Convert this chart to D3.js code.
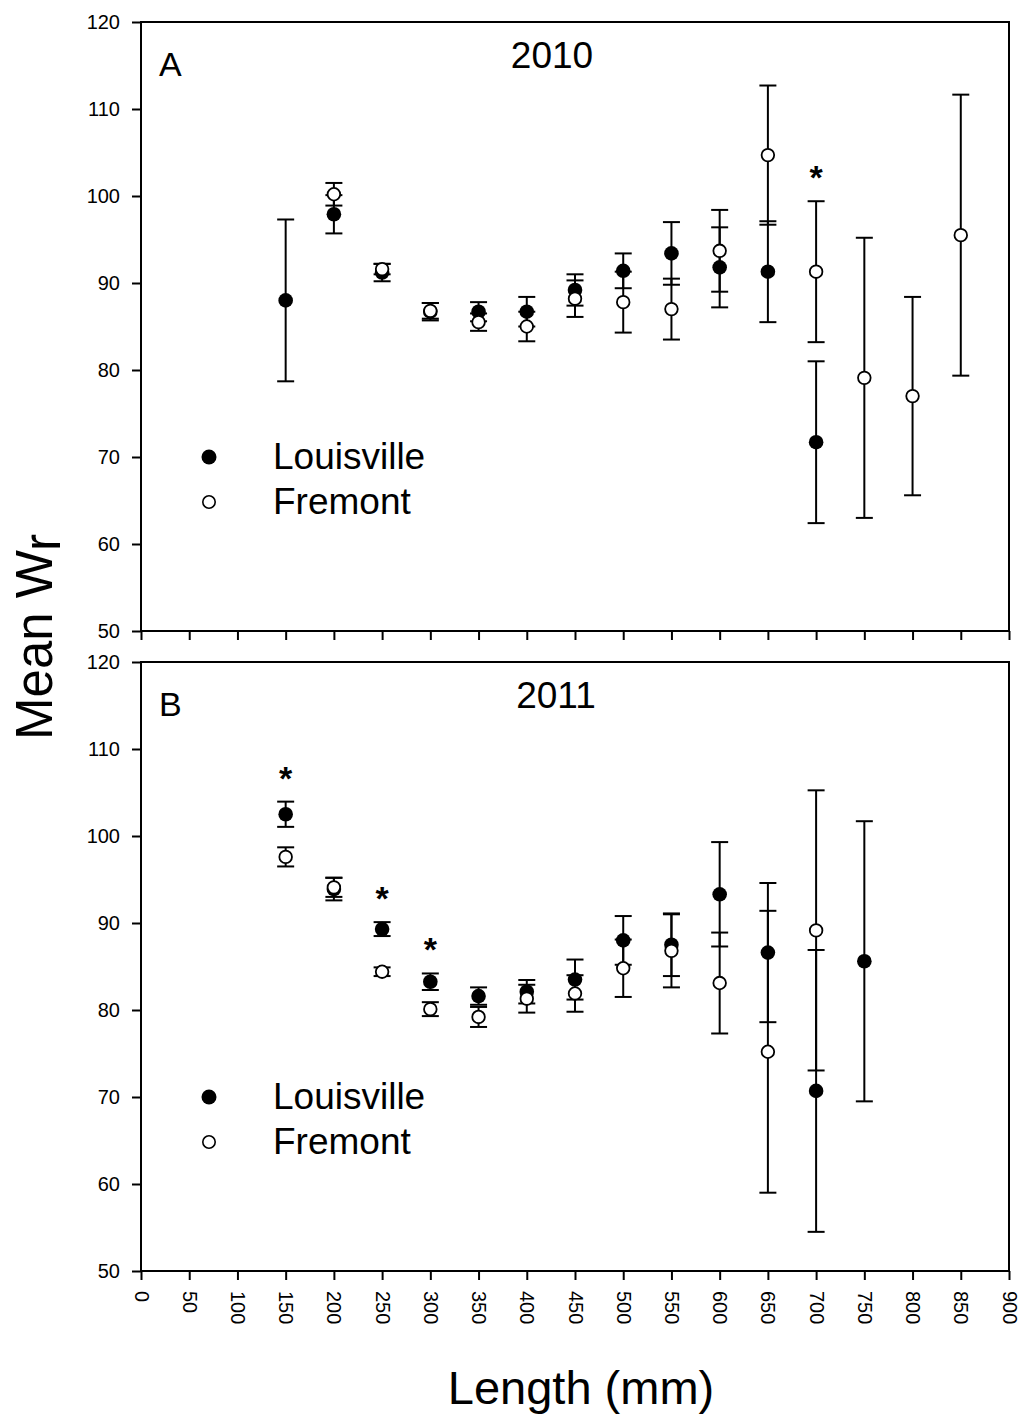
<!DOCTYPE html>
<html>
<head>
<meta charset="utf-8">
<script src="https://cdn.jsdelivr.net/npm/d3@7"></script>
<style>
  body { margin: 0; background: #fff; }
  svg { display: block; font-family: "Liberation Sans", Arial, sans-serif; }
</style>
</head>
<body>
<div id="chart"></div>
<script>
// length classes (mm)
const lengths = [150, 200, 250, 300, 350, 400, 450, 500, 550, 600, 650, 700, 750, 800, 850];

// 2010 mean Wr and SE
const louis2010 = [88.0, 97.9, 91.2, 86.7, 86.7, 86.7, 89.2, 91.4, 93.4, 91.8, 91.3, 71.7, null, null, null];
const louis2010se = [9.3, 2.2, 1.0, 1.0, 1.1, 1.7, 1.8, 2.0, 3.6, 4.6, 5.8, 9.3, null, null, null];
const frem2010 = [null, 100.2, 91.6, 86.8, 85.5, 85.0, 88.2, 87.8, 87.0, 93.7, 104.7, 91.3, 79.1, 77.0, 95.5];
const frem2010se = [null, 1.3, 0.6, 0.9, 1.0, 1.7, 2.1, 3.5, 3.5, 4.7, 8.0, 8.1, 16.1, 11.4, 16.15];

// 2011 mean Wr and SE
const louis2011 = [102.5, 93.9, 89.3, 83.25, 81.6, 82.1, 83.5, 88.0, 87.5, 93.3, 86.6, 70.7, 85.6, null, null];
const louis2011se = [1.45, 1.3, 0.8, 0.95, 1.0, 1.35, 2.3, 2.8, 3.6, 6.0, 8.0, 16.2, 16.1, null, null];
const frem2011 = [97.6, 94.1, 84.4, 80.1, 79.2, 81.3, 81.9, 84.8, 86.8, 83.1, 75.2, 89.15, null, null, null];
const frem2011se = [1.1, 1.1, 0.5, 0.8, 1.15, 1.6, 2.1, 3.3, 4.2, 5.8, 16.2, 16.1, null, null, null];

// significant differences (*)
const sig2010 = [700];
const sig2011 = [150, 250, 300];

const xTicks = d3.range(0, 901, 50);
const yTicks = [50, 60, 70, 80, 90, 100, 110, 120];
const seriesNames = ["Louisville", "Fremont"];
const panelLetters = ["A", "B"];
const panelYears = ["2010", "2011"];

const width = 1024, height = 1416;
const svg = d3.select("#chart").append("svg")
  .attr("width", width)
  .attr("height", height);

const x = d3.scaleLinear().domain([0, 900]).range([141, 1009]);

const panels = [
  { top: 22, bottom: 631, louis: louis2010, louisSe: louis2010se, frem: frem2010, fremSe: frem2010se, sig: sig2010, titleX: 552, xLabels: false },
  { top: 662, bottom: 1271, louis: louis2011, louisSe: louis2011se, frem: frem2011, fremSe: frem2011se, sig: sig2011, titleX: 556, xLabels: true }
];

function toPoints(means, ses) {
  return lengths.map((l, i) => ({ len: l, mean: means[i], se: ses[i] }))
    .filter(d => d.mean != null);
}

panels.forEach((p, pi) => {
  const y = d3.scaleLinear().domain([50, 120]).range([p.bottom, p.top]);
  const g = svg.append("g");

  // frame
  g.append("rect")
    .attr("x", x(0)).attr("y", y(120))
    .attr("width", x(900) - x(0)).attr("height", y(50) - y(120))
    .attr("fill", "none").attr("stroke", "#000").attr("stroke-width", 2);

  // y axis
  const yAxis = g.append("g")
    .attr("transform", `translate(${x(0)},0)`)
    .call(d3.axisLeft(y).tickValues(yTicks).tickSize(9).tickSizeOuter(0).tickPadding(12));
  yAxis.select(".domain").remove();
  yAxis.selectAll("line").attr("stroke-width", 2);
  yAxis.selectAll("text").attr("font-size", 20).attr("fill", "#000")
    .style("font-family", "'Liberation Sans', Arial, sans-serif");

  // x axis
  const xAxis = g.append("g")
    .attr("transform", `translate(0,${y(50)})`)
    .call(d3.axisBottom(x).tickValues(xTicks).tickSize(9).tickSizeOuter(0)
      .tickFormat(p.xLabels ? d3.format("d") : ""));
  xAxis.select(".domain").remove();
  xAxis.selectAll("line").attr("stroke-width", 2);
  xAxis.selectAll("text")
    .attr("font-size", 20).attr("fill", "#000")
    .style("font-family", "'Liberation Sans', Arial, sans-serif")
    .attr("transform", "rotate(90)")
    .attr("x", 20).attr("y", 0).attr("dy", "0.35em")
    .attr("text-anchor", "start");

  const series = [
    { pts: toPoints(p.louis, p.louisSe), fill: "#000" },
    { pts: toPoints(p.frem, p.fremSe), fill: "#fff" }
  ];

  series.forEach(s => {
    const bars = g.append("g").selectAll("g")
      .data(s.pts).enter().append("g")
      .attr("stroke", "#000").attr("stroke-width", 2);
    bars.append("line")
      .attr("x1", d => x(d.len)).attr("x2", d => x(d.len))
      .attr("y1", d => y(d.mean + d.se)).attr("y2", d => y(d.mean - d.se));
    bars.append("line")
      .attr("x1", d => x(d.len) - 8.5).attr("x2", d => x(d.len) + 8.5)
      .attr("y1", d => y(d.mean + d.se)).attr("y2", d => y(d.mean + d.se));
    bars.append("line")
      .attr("x1", d => x(d.len) - 8.5).attr("x2", d => x(d.len) + 8.5)
      .attr("y1", d => y(d.mean - d.se)).attr("y2", d => y(d.mean - d.se));

    g.append("g").selectAll("circle")
      .data(s.pts).enter().append("circle")
      .attr("cx", d => x(d.len)).attr("cy", d => y(d.mean))
      .attr("r", s.fill === "#000" ? 7.3 : 6.3)
      .attr("fill", s.fill)
      .attr("stroke", "#000")
      .attr("stroke-width", s.fill === "#000" ? 0 : 1.8);
  });

  // asterisks above the highest error bar
  const allPts = series[0].pts.concat(series[1].pts);
  g.append("g").selectAll("text")
    .data(p.sig).enter().append("text")
    .attr("x", d => x(d))
    .attr("y", d => {
      const hi = d3.max(allPts.filter(q => q.len === d), q => q.mean + q.se);
      return y(hi) - 32 + 20;
    })
    .attr("text-anchor", "middle")
    .attr("font-size", 34)
    .attr("font-weight", "bold")
    .text("*");

  // panel letter and year
  g.append("text")
    .attr("x", 159).attr("y", p.top + 54)
    .attr("font-size", 34)
    .text(panelLetters[pi]);
  g.append("text")
    .attr("x", p.titleX).attr("y", p.top + 46)
    .attr("text-anchor", "middle")
    .attr("font-size", 37)
    .text(panelYears[pi]);

  // legend
  const leg = g.append("g").attr("transform", `translate(0,${p.top})`);
  seriesNames.forEach((name, i) => {
    leg.append("circle")
      .attr("cx", 209).attr("cy", 435 + i * 45)
      .attr("r", i === 0 ? 7.5 : 6.2)
      .attr("fill", i === 0 ? "#000" : "#fff")
      .attr("stroke", "#000")
      .attr("stroke-width", i === 0 ? 0 : 1.6);
    leg.append("text")
      .attr("x", 273).attr("y", 447 + i * 45)
      .attr("font-size", 37)
      .text(name);
  });
});

// axis titles
const yl = svg.append("text")
  .attr("transform", "translate(52,637) rotate(-90)")
  .attr("text-anchor", "middle")
  .attr("font-size", 51);
yl.append("tspan").text("Mean W");
yl.append("tspan").attr("dy", 8).text("r");

svg.append("text")
  .attr("x", 581).attr("y", 1404)
  .attr("text-anchor", "middle")
  .attr("font-size", 47)
  .text("Length (mm)");
</script>
</body>
</html>
